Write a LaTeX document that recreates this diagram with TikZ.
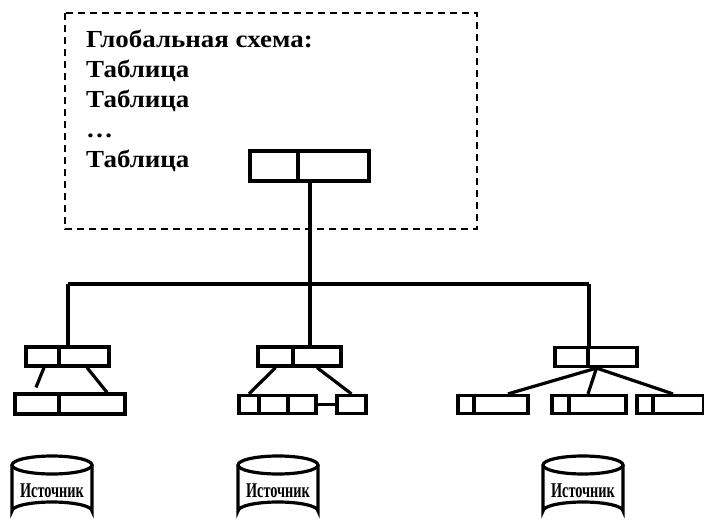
\documentclass[tikz,border=0pt]{standalone}
\usepackage{fontspec}
\setmainfont{Liberation Serif}
\newfontfamily\schemafont{Liberation Serif}[FakeStretch=1.1]
\newfontfamily\srcfont{Liberation Serif}[FakeStretch=0.68]

\tikzset{
  cell/.style={draw, line width=3.2pt, minimum height=19pt, inner sep=0pt},
  wire/.style={line width=3.2pt},
}

\begin{document}
\begin{tikzpicture}[x=1pt, y=-1pt]
        \useasboundingbox (0,0) rectangle (704,521);

        % global schema frame
        \draw[dashed, dash pattern=on 7pt off 5pt, line width=1.5pt] (65,13) rectangle (477,229);
        \foreach \t [count=\i] in {Глобальная схема:, Таблица, Таблица, …, Таблица}
          \node[anchor=base west, inner sep=0pt,
                font=\schemafont\bfseries\fontsize{24.5}{24.5}\selectfont] (gs\i) at (86,18+30*\i) {\t};

        % global table
        \node[cell, minimum width=48pt, minimum height=30pt] (top1) at (274,166) {};
        \node[cell, minimum width=71pt, minimum height=30pt] (top2) at (333.5,166) {};

        % bus
        \coordinate (busL) at (68,284);
        \coordinate (busM) at (310,284);
        \coordinate (busR) at (589,284);
        \draw[wire] (busM |- top2.south) -- (busM);
        \draw[wire] (busL) -- (busR);

        % left site
        \node[cell, minimum width=33pt] (lu1) at (42.5,356.5) {};
        \node[cell, minimum width=50pt] (lu2) at (84,356.5) {};
        \node[cell, minimum width=44pt, minimum height=20pt] (ll1) at (37,404) {};
        \node[cell, minimum width=66pt, minimum height=20pt] (ll2) at (92,404) {};
        \draw[wire] (busL) -- (busL |- lu2.north);
        \draw[wire] ([xshift=1.5pt]lu1.south) -- ([xshift=-1pt,yshift=5pt]ll1.north);
        \draw[wire] ([xshift=3pt]lu2.south) -- ([xshift=15pt]ll2.north);

        % middle site
        \node[cell, minimum width=35pt] (mu1) at (275.5,356.5) {};
        \node[cell, minimum width=48pt] (mu2) at (317,356.5) {};
        \node[cell, minimum width=20pt, minimum height=18pt] (ml1) at (249,404.5) {};
        \node[cell, minimum width=29pt, minimum height=18pt] (ml2) at (273.5,404.5) {};
        \node[cell, minimum width=28pt, minimum height=18pt] (ml3) at (302,404.5) {};
        \node[cell, minimum width=29pt, minimum height=18pt] (ml4) at (351.5,404.5) {};
        \draw[wire] (busM) -- (busM |- mu2.north);
        \draw[wire] (mu1.south) -- (ml1.north);
        \draw[wire] (mu2.south) -- (ml4.north);
        \draw[wire] (ml3.east) -- (ml4.west);

        % right site
        \node[cell, minimum width=33pt] (ru1) at (571.5,357) {};
        \node[cell, minimum width=49pt] (ru2) at (612.5,357) {};
        \node[cell, minimum width=16pt, minimum height=18pt] (rl1) at (466,404.5) {};
        \node[cell, minimum width=54pt, minimum height=18pt] (rl2) at (501,404.5) {};
        \node[cell, minimum width=17pt, minimum height=18pt] (rl3) at (560.5,404.5) {};
        \node[cell, minimum width=57pt, minimum height=18pt] (rl4) at (597.5,404.5) {};
        \node[cell, minimum width=16pt, minimum height=18pt] (rl5) at (645,404.5) {};
        \node[cell, minimum width=51pt, minimum height=18pt] (rl6) at (678,404.5) {};
        \coordinate (rfork) at ([xshift=-16pt]ru2.south);
        \draw[wire] (busR) -- (busR |- ru2.north);
        \draw[wire] (rfork) -- ([xshift=7pt]rl2.north);
        \draw[wire] (rfork) -- ([xshift=-9.5pt]rl4.north);
        \draw[wire] (rfork) -- ([xshift=-5pt]rl6.north);

        % sources
        \foreach \x/\n in {52/1, 278/2, 583/3} {
          \draw[wire] (\x-40,465) -- (\x-40,511)
            arc[start angle=180, end angle=360, x radius=40, y radius=9] -- (\x+40,465);
          \draw[wire] (\x,465) ellipse[x radius=40, y radius=9];
          \node[anchor=base, inner sep=0pt,
                font=\srcfont\bfseries\fontsize{21}{21}\selectfont] (src\n) at (\x,497) {Источник};
        }
    \end{tikzpicture}
\end{document}
